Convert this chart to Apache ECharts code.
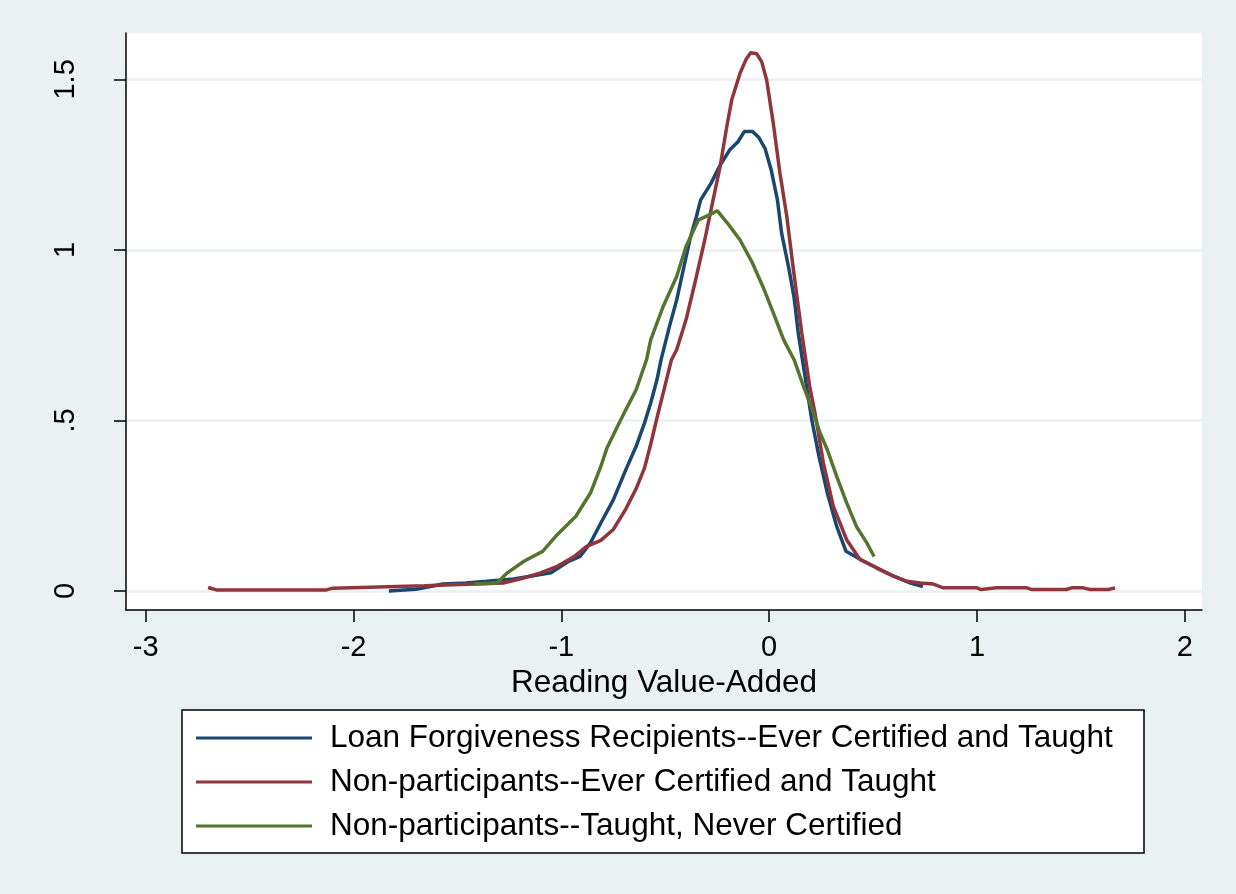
<!DOCTYPE html>
<html>
<head>
<meta charset="utf-8">
<script src="https://cdn.jsdelivr.net/npm/echarts@6/dist/echarts.min.js"></script>
<style>
html,body{margin:0;padding:0;background:#e9f1f3;}
#chart{width:1236px;height:894px;}
</style>
</head>
<body>
<div id="chart"></div>
<script>
var seriesNames = [
  'Loan Forgiveness Recipients--Ever Certified and Taught',
  'Non-participants--Ever Certified and Taught',
  'Non-participants--Taught, Never Certified'
];
var xTicks = [-3, -2, -1, 0, 1, 2];
var yTicks = [0, 0.5, 1, 1.5];
var yTickLabels = ['0', '.5', '1', '1.5'];

var loanX = [-1.83, -1.70, -1.63, -1.57, -1.46, -1.36, -1.23, -1.15, -1.05, -0.97, -0.91, -0.86, -0.81, -0.75, -0.69, -0.64, -0.60, -0.57, -0.54, -0.52, -0.48, -0.445, -0.41, -0.38, -0.35, -0.33, -0.28, -0.24, -0.19, -0.15, -0.12, -0.08, -0.05, -0.02, 0.01, 0.04, 0.06, 0.095, 0.12, 0.14, 0.18, 0.205, 0.24, 0.28, 0.325, 0.37, 0.44, 0.52, 0.60, 0.68, 0.74];
var loanY = [0.0, 0.005, 0.013, 0.02, 0.023, 0.028, 0.035, 0.043, 0.053, 0.085, 0.101, 0.141, 0.199, 0.267, 0.355, 0.424, 0.492, 0.551, 0.619, 0.678, 0.775, 0.853, 0.951, 1.034, 1.098, 1.146, 1.195, 1.244, 1.293, 1.317, 1.347, 1.347, 1.330, 1.298, 1.234, 1.146, 1.049, 0.945, 0.86, 0.756, 0.60, 0.502, 0.394, 0.287, 0.189, 0.116, 0.092, 0.067, 0.043, 0.023, 0.013];

var certX = [-2.70, -2.66, -2.13, -2.10, -1.66, -1.28, -1.18, -1.10, -1.02, -0.94, -0.88, -0.81, -0.75, -0.69, -0.64, -0.60, -0.57, -0.54, -0.51, -0.47, -0.445, -0.40, -0.35, -0.31, -0.27, -0.236, -0.204, -0.18, -0.14, -0.11, -0.089, -0.06, -0.036, -0.012, 0.02, 0.052, 0.085, 0.117, 0.157, 0.195, 0.221, 0.261, 0.309, 0.373, 0.437, 0.518, 0.598, 0.662, 0.726, 0.79, 0.838, 1.0, 1.02, 1.095, 1.24, 1.264, 1.43, 1.456, 1.51, 1.545, 1.632, 1.665];
var certY = [0.01, 0.003, 0.003, 0.008, 0.015, 0.023, 0.038, 0.053, 0.072, 0.10, 0.13, 0.148, 0.18, 0.24, 0.30, 0.36, 0.43, 0.507, 0.58, 0.678, 0.707, 0.795, 0.922, 1.029, 1.146, 1.244, 1.361, 1.44, 1.518, 1.56, 1.578, 1.575, 1.552, 1.498, 1.371, 1.225, 1.098, 0.941, 0.756, 0.60, 0.521, 0.375, 0.248, 0.150, 0.092, 0.067, 0.043, 0.028, 0.023, 0.02, 0.009, 0.009, 0.004, 0.009, 0.009, 0.004, 0.004, 0.009, 0.009, 0.004, 0.004, 0.009];

var neverX = [-1.42, -1.31, -1.26, -1.18, -1.09, -1.02, -0.93, -0.86, -0.81, -0.78, -0.73, -0.69, -0.64, -0.59, -0.57, -0.51, -0.445, -0.40, -0.34, -0.29, -0.25, -0.20, -0.14, -0.08, -0.03, 0.02, 0.07, 0.12, 0.165, 0.20, 0.245, 0.28, 0.325, 0.373, 0.42, 0.47, 0.505];
var neverY = [0.02, 0.023, 0.053, 0.087, 0.116, 0.165, 0.219, 0.287, 0.365, 0.42, 0.482, 0.531, 0.59, 0.678, 0.736, 0.834, 0.922, 1.010, 1.088, 1.102, 1.115, 1.078, 1.029, 0.961, 0.892, 0.815, 0.736, 0.678, 0.60, 0.545, 0.463, 0.414, 0.336, 0.258, 0.189, 0.141, 0.101];

var colors = ['#1a476f', '#90353b', '#55752f'];

function zip(xs, ys) { return xs.map(function (x, i) { return [x, ys[i]]; }); }

var chart = echarts.init(document.getElementById('chart'), null, {renderer: 'canvas'});
var FONT = '"Liberation Sans", Arial, sans-serif';

chart.setOption({
  backgroundColor: '#e9f1f3',
  animation: false,
  textStyle: {fontFamily: FONT, color: '#000'},
  grid: {left: 126, right: 34, top: 33, bottom: 284, show: true, backgroundColor: '#ffffff', borderWidth: 0, containLabel: false},
  graphic: [{
    type: 'rect', z: 0,
    shape: {x: 182, y: 710, width: 962, height: 143},
    style: {fill: '#ffffff', stroke: '#000000', lineWidth: 1.5}
  }],
  legend: {
    orient: 'vertical', left: 196, top: 720, padding: 0,
    icon: 'rect', itemWidth: 116, itemHeight: 3, itemGap: 8,
    textStyle: {fontFamily: FONT, fontSize: 31.5, color: '#000', lineHeight: 36, padding: [0, 0, 0, 13]},
    data: seriesNames
  },
  xAxis: {
    type: 'value', min: -3.095, max: 2.083,
    name: 'Reading Value-Added', nameLocation: 'middle', nameGap: 47,
    nameTextStyle: {fontFamily: FONT, fontSize: 31.5, color: '#000'},
    axisLine: {show: true, onZero: false, lineStyle: {color: '#000', width: 1.5}},
    axisTick: {show: true, length: 12, customValues: xTicks, lineStyle: {color: '#000', width: 1.5}},
    axisLabel: {customValues: xTicks, fontFamily: FONT, fontSize: 29, color: '#000', margin: 23},
    splitLine: {show: false}
  },
  yAxis: {
    type: 'value', min: -0.056, max: 1.636,
    axisLine: {show: true, onZero: false, lineStyle: {color: '#000', width: 1.5}},
    axisTick: {show: true, length: 12, customValues: yTicks, lineStyle: {color: '#000', width: 1.5}},
    axisLabel: {
      customValues: yTicks, rotate: 90, fontFamily: FONT, fontSize: 29, color: '#000', margin: 46,
      formatter: function (v) { var i = yTicks.indexOf(v); return i >= 0 ? yTickLabels[i] : ''; }
    },
    splitLine: {show: true, lineStyle: {color: '#e9f1f3', width: 2.5}}
  },
  series: [
    {name: seriesNames[0], type: 'line', data: zip(loanX, loanY), symbol: 'none', color: colors[0], lineStyle: {color: colors[0], width: 3.5}, z: 3},
    {name: seriesNames[1], type: 'line', data: zip(certX, certY), symbol: 'none', color: colors[1], lineStyle: {color: colors[1], width: 3.5}, z: 4},
    {name: seriesNames[2], type: 'line', data: zip(neverX, neverY), symbol: 'none', color: colors[2], lineStyle: {color: colors[2], width: 3.5}, z: 5}
  ]
});
</script>
</body>
</html>
